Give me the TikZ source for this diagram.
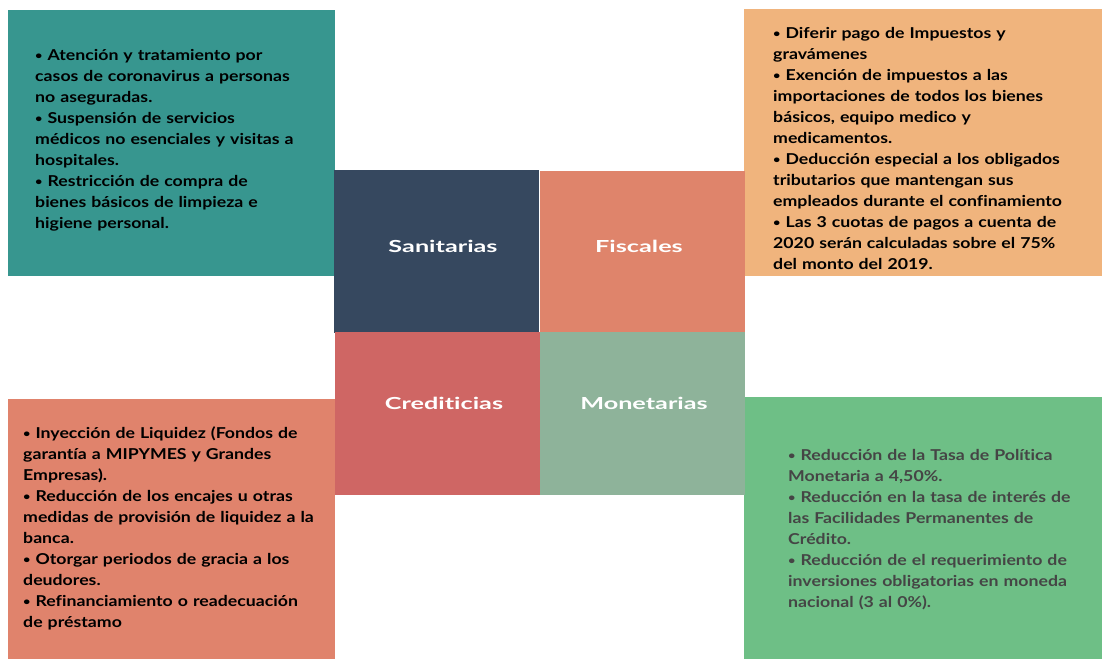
\documentclass[tikz,border=0pt]{standalone}
\usepackage{fontspec}
\setmainfont{Lato}
\newfontfamily\cuerpo{Lato}[FakeStretch=1.18, Ligatures=CommonOff]
\newfontfamily\rotulo{Lato}[FakeStretch=1.52, Ligatures=CommonOff]
\usetikzlibrary{positioning}

\definecolor{verdeazul}{HTML}{37968F}
\definecolor{naranja}{HTML}{F0B47D}
\definecolor{salmon}{HTML}{E0836C}
\definecolor{verde}{HTML}{6EBF86}
\definecolor{azuloscuro}{HTML}{36485F}
\definecolor{coral}{HTML}{DF846B}
\definecolor{rojizo}{HTML}{CF6664}
\definecolor{salvia}{HTML}{8EB39A}
\definecolor{grisoscuro}{HTML}{454545}

\newcommand{\vineta}{\raisebox{0.12ex}{\scalebox{0.72}{•}}}

\tikzset{
    panel/.style={anchor=north west, inner sep=0pt, outer sep=0pt},
    lista/.style={anchor=base west, align=left, inner sep=0pt, text width=340pt,
        font=\cuerpo\fontsize{15}{21}\selectfont\bfseries},
    titulo/.style={inner sep=0pt, text=white, font=\rotulo\fontsize{16.6}{20}\selectfont\bfseries}
}

\begin{document}
\begin{tikzpicture}[x=1pt,y=-1pt]
    \useasboundingbox (0,0) rectangle (1102,659);

    % Cajas de las medidas
    \node[panel, fill=verdeazul, minimum width=327pt, minimum height=266pt] (cajasan) at (8,10) {};
    \node[panel, fill=naranja, minimum width=358pt, minimum height=267pt] (cajafis) at (744,9) {};
    \node[panel, fill=salmon, minimum width=327pt, minimum height=260pt] (cajacre) at (8,399) {};
    \node[panel, fill=verde, minimum width=358pt, minimum height=262pt] (cajamon) at (744,397) {};

    % Cuadros centrales
    \foreach \nom/\col/\x/\y in {sanit/azuloscuro/334/170, fisc/coral/540/171,
                                  cred/rojizo/335/332, monet/salvia/540/332}
        \node[panel, fill=\col, minimum width=205pt, minimum height=163pt] (\nom) at (\x,\y) {};

    \node[titulo] (tsanit) at (443,246) {Sanitarias};
    \node[titulo] (tfisc) at (639,246) {Fiscales};
    \node[titulo] (tcred) at (444,403) {Crediticias};
    \node[titulo] (tmonet) at (644,403) {Monetarias};

    % Textos
    \node[lista] (txtsan) at (35,60) {%
        \vineta{} Atención y tratamiento por\\
        casos de coronavirus a personas\\
        no aseguradas.\\
        \vineta{} Suspensión de servicios\\
        médicos no esenciales y visitas a\\
        hospitales.\\
        \vineta{} Restricción de compra de\\
        bienes básicos de limpieza e\\
        higiene personal.};

    \node[lista] (txtfis) at (773,38) {%
        \vineta{} Diferir pago de Impuestos y\\
        gravámenes\\
        \vineta{} Exención de impuestos a las\\
        importaciones de todos los bienes\\
        básicos, equipo medico y\\
        medicamentos.\\
        \vineta{} Deducción especial a los obligados\\
        tributarios que mantengan sus\\
        empleados durante el confinamiento\\
        \vineta{} Las 3 cuotas de pagos a cuenta de\\
        2020 serán calculadas sobre el 75\%\\
        del monto del 2019.};

    \node[lista] (txtcre) at (23,438) {%
        \vineta{} Inyección de Liquidez (Fondos de\\
        garantía a MIPYMES y Grandes\\
        Empresas).\\
        \vineta{} Reducción de los encajes u otras\\
        medidas de provisión de liquidez a la\\
        banca.\\
        \vineta{} Otorgar periodos de gracia a los\\
        deudores.\\
        \vineta{} Refinanciamiento o readecuación\\
        de préstamo};

    \node[lista, text=grisoscuro] (txtmon) at (788,460) {%
        \vineta{} Reducción de la Tasa de Política\\
        Monetaria a 4,50\%.\\
        \vineta{} Reducción en la tasa de interés de\\
        las Facilidades Permanentes de\\
        Crédito.\\
        \vineta{} Reducción de el requerimiento de\\
        inversiones obligatorias en moneda\\
        nacional (3 al 0\%).};
\end{tikzpicture}
\end{document}
